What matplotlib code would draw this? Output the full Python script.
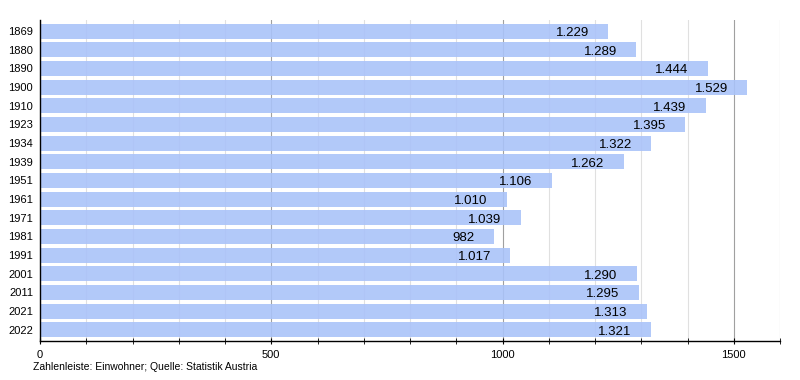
import matplotlib.pyplot as plt
from matplotlib.ticker import MultipleLocator

plt.rcParams['font.family'] = ['Liberation Sans', 'DejaVu Sans']

years = ['1869', '1880', '1890', '1900', '1910', '1923', '1934', '1939', '1951',
         '1961', '1971', '1981', '1991', '2001', '2011', '2021', '2022']
einwohner = [1229, 1289, 1444, 1529, 1439, 1395, 1322, 1262, 1106,
             1010, 1039, 982, 1017, 1290, 1295, 1313, 1321]

fig = plt.figure(figsize=(8, 3.8), dpi=100)
ax = fig.add_axes([0.05, 0.1026, 0.925, 0.845])

pos = list(range(len(years)))
# leicht transparent, damit das Gitter durchscheint
ax.barh(pos, einwohner, height=0.8, color='#aac3f9', alpha=0.9, zorder=2)

for p, v in zip(pos, einwohner):
    txt = '{:,}'.format(v).replace(',', '.')
    ax.annotate(txt, (v, p), xytext=(-14, -3.5), textcoords='offset points',
                ha='right', va='baseline', fontsize=9.5, color='black', zorder=3)

ax.set_xlim(0, 1600)
ax.set_ylim(len(years) - 0.4, -0.6)
ax.set_yticks(pos)
ax.set_yticklabels(years, fontsize=8)
ax.xaxis.set_major_locator(MultipleLocator(500))
ax.xaxis.set_minor_locator(MultipleLocator(100))
ax.tick_params(axis='x', which='both', direction='inout', length=5, labelsize=8, pad=4)
ax.tick_params(axis='y', length=0, pad=5)
ax.grid(axis='x', which='major', color='#a0a0a0', linewidth=0.8, zorder=0)
ax.grid(axis='x', which='minor', color='#e0e0e0', linewidth=0.8, zorder=0)
ax.axvline(1600, color='#e0e0e0', linewidth=0.8, zorder=0)

for s in ['top', 'right']:
    ax.spines[s].set_visible(False)
ax.spines['left'].set_linewidth(1)
ax.spines['bottom'].set_linewidth(1)

fig.text(0.041, 0.025, 'Zahlenleiste: Einwohner; Quelle: Statistik Austria', fontsize=7.5)

fig.savefig('out.png', dpi=100)
